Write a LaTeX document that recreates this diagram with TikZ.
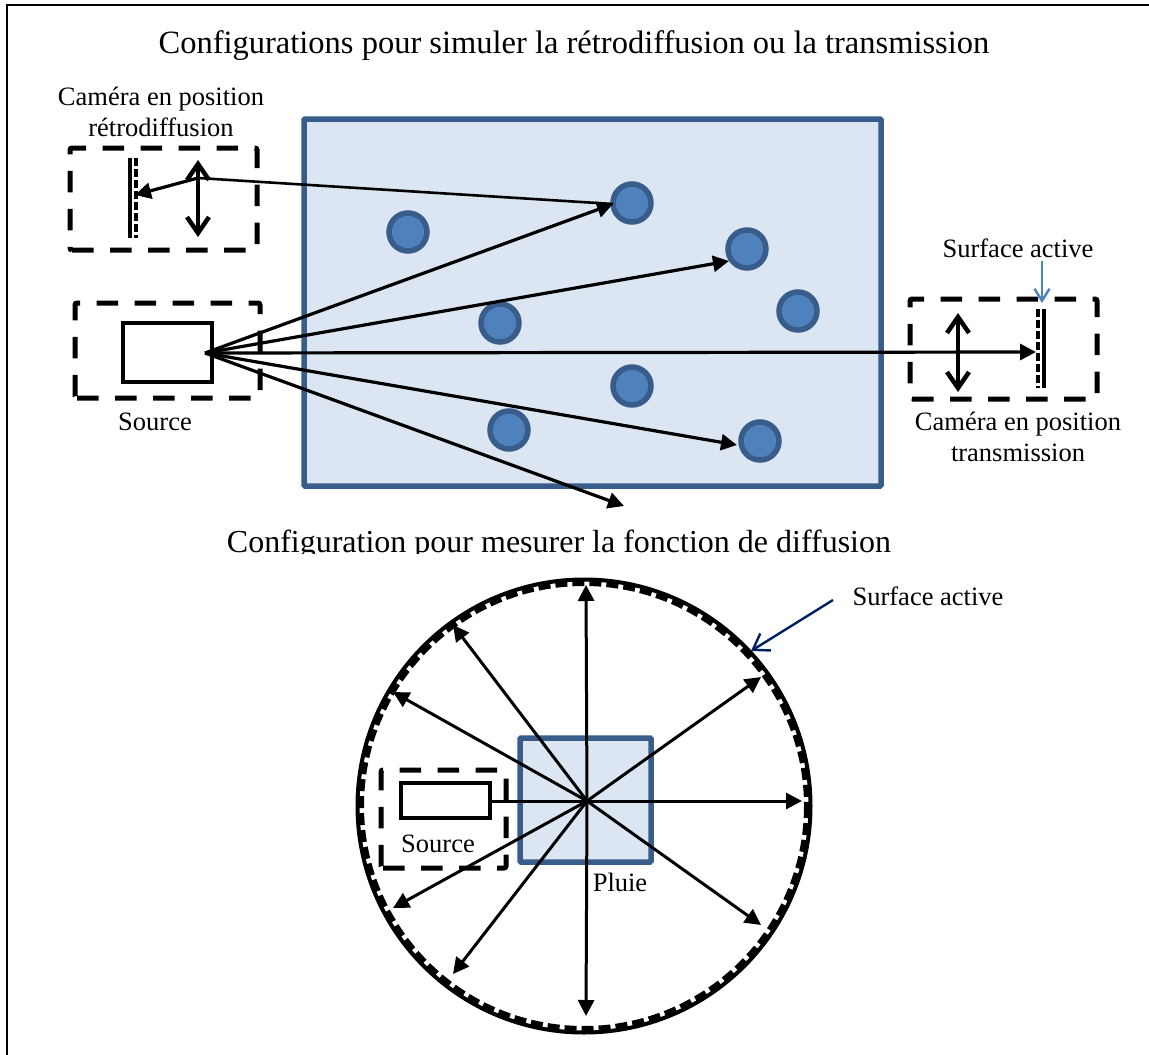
\documentclass[tikz,border=0pt]{standalone}
\usepackage{fontspec}
\setmainfont{Liberation Serif}
\usetikzlibrary{arrows.meta}
\definecolor{pluieFond}{HTML}{DCE6F2}
\definecolor{pluieBord}{HTML}{385D8A}
\definecolor{goutte}{HTML}{4F81BD}
\definecolor{fleche}{HTML}{002060}
\tikzset{
  titre/.style={inner sep=0pt, font=\fontsize{32.5}{38}\selectfont},
  texte/.style={inner sep=0pt, align=center, font=\fontsize{26.5}{31}\selectfont},
  boite/.style={line width=5pt, dash pattern=on 21.5pt off 16.5pt, rounded corners=2pt},
  pluie/.style={line width=5.5pt, draw=pluieBord, fill=pluieFond, rounded corners=1pt},
  gouttelette/.style={line width=5.5pt, draw=pluieBord, fill=goutte},
  rayon/.style={line width=3.2pt, -{Triangle[length=16pt,width=16pt]}},
  rayonFin/.style={line width=3pt, -{Triangle[length=16pt,width=16pt]}},
  lentille/.style={line width=4.5pt, {Straight Barb[length=16pt,width=22pt]}-{Straight Barb[length=16pt,width=22pt]}},
  capteur/.style={line width=3.5pt},
  capteurPt/.style={line width=4pt, dash pattern=on 8pt off 3pt},
}
\begin{document}
\begin{tikzpicture}[x=1pt, y=-1pt]
  %tikz  Diffusion, pluie
    \useasboundingbox (0,0) rectangle (1149,1055);
    \draw[line width=2.5pt] (7,1055) -- (7,5) -- (1149,5);
    \node[titre] (titreA) at (574,46) {Configurations pour simuler la rétrodiffusion ou la transmission};
    \begin{scope}
      \clip (0,500) rectangle (1149,553);
      \node[titre, font=\fontsize{32}{38}\selectfont] (titreB) at (559,545) {Configuration pour mesurer la fonction de diffusion};
    \end{scope}
    % chambre
    \draw[pluie] (304,119) rectangle (881,486);
    \foreach \x/\y [count=\i] in {408/232, 632/203, 747/249, 798/311, 500/323, 632/386, 509/430, 760/441}
      \draw[gouttelette] (\x,\y) circle(19);
    % source
    \draw[boite] (75,398) -- (260,398) -- (260,303) -- (75,303) -- cycle;
    \draw[line width=4pt, fill=white] (123,323) rectangle (212,382);
    \node[texte] (source) at (155,422) {Source};
    % camera retro
    \draw[boite] (70,250) -- (257,250) -- (257,148) -- (70,148) -- cycle;
    \draw[capteur] (130,158) -- (130,238);
    \draw[capteurPt] (136,158) -- (136,238);
    \draw[lentille] (198,160) -- (198,237);
    \node[texte] (retro) at (161,112) {Caméra en position\\rétrodiffusion};
    % camera transmission
    \draw[boite] (910,399) -- (1097,399) -- (1097,299) -- (910,299) -- cycle;
    \draw[capteur] (1044,309) -- (1044,388);
    \draw[capteurPt] (1038,309) -- (1038,388);
    \draw[lentille] (958,313) -- (958,392);
    \node[texte] (trans) at (1018,437) {Caméra en position\\transmission};
    \node[texte] (surfA) at (1018,248) {Surface active};
    % rayons
    \coordinate (src) at (205,353);
    \coordinate (tA) at (613,204);
    \coordinate (tB) at (729,261);
    \coordinate (tC) at (1036,352);
    \coordinate (tD) at (737,445);
    \coordinate (tE) at (624,506);
    \coordinate (ret) at (198,178);
    \coordinate (retC) at (135,195);
    \foreach \t in {tA,tB,tC,tD,tE}
      \draw[rayon] (src) -- (\t);
    \draw[line width=2.6pt] (tA) -- (ret);
    \draw[rayon] (ret) -- (retC);
    \coordinate (bA) at (1042,261);
    \coordinate (bB) at (1042,303);
    \draw[line width=2.4pt, draw=goutte, -{Straight Barb[length=12pt,width=15pt]}] (bA) -- (bB);
    % sphere
    \draw[line width=4pt] (584,806) circle(226.5);
    \draw[line width=5pt, dash pattern=on 12pt off 5pt] (584,806) circle(222.5);
    \draw[pluie] (520,738) rectangle (651,862);
    \draw[boite] (381,868) -- (506,868) -- (506,770) -- (381,770) -- cycle;
    \draw[line width=4pt, fill=white] (401,783) rectangle (490,818);
    \node[texte] (sourceB) at (438,844) {Source};
    \node[texte] (pluieT) at (620,882) {Pluie};
    \node[texte] (surfB) at (928,596) {Surface active};
    \coordinate (ctr) at (587,801);
    \coordinate (dep) at (492,801);
    \coordinate (c1) at (586,585);
    \coordinate (c2) at (453,625);
    \coordinate (c3) at (393,692);
    \coordinate (c4) at (761,677);
    \coordinate (c5) at (761,925);
    \coordinate (c6) at (586,1016);
    \coordinate (c7) at (453,974);
    \coordinate (c8) at (393,908);
    \coordinate (c9) at (802,801);
    \foreach \t in {c1,c2,c3,c4,c5,c6,c7,c8}
      \draw[rayonFin] (ctr) -- (\t);
    \draw[rayonFin] (dep) -- (c9);
    \coordinate (fA) at (833,600);
    \coordinate (fB) at (751,651);
    \draw[line width=2.4pt, draw=fleche, -{Straight Barb[length=15pt,width=20pt]}] (fA) -- (fB);
  \end{tikzpicture}
\end{document}
